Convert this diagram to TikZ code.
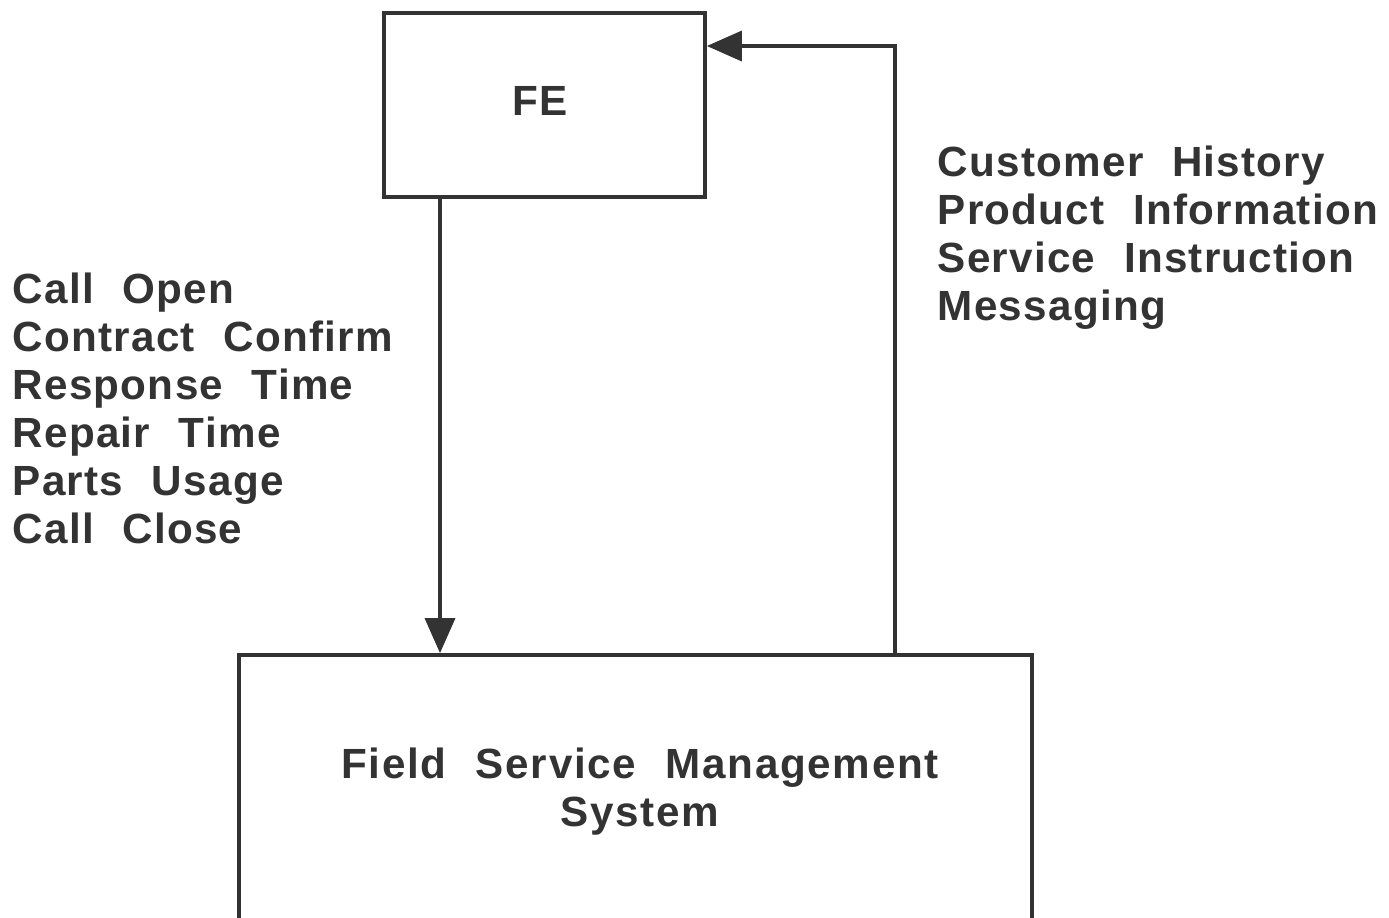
\documentclass[tikz,border=0pt]{standalone}
\usepackage{fontspec}
\usetikzlibrary{arrows.meta}
\newfontfamily\labfont{Liberation Sans}[LetterSpace=3,WordSpace=2.2]
\newfontfamily\boxfont{Liberation Sans}[LetterSpace=4,WordSpace=2.2]
\definecolor{ink}{HTML}{333333}
\tikzset{
  lab/.style={font=\labfont\bfseries\fontsize{12}{13.66}\selectfont, text=ink, inner sep=0pt},
  boxlab/.style={font=\boxfont\bfseries\fontsize{12}{13.66}\selectfont, text=ink, inner sep=0pt},
  box/.style={draw=ink, line width=1pt, rectangle, inner sep=0pt},
  arr/.style={draw=ink, line width=1pt, -{Triangle[length=3.5mm,width=3mm]}}
}
\begin{document}
\begin{tikzpicture}[x=0.01cm,y=-0.01cm]
\clip (0,0) rectangle (1389,917);
\fill[white] (0,0) rectangle (1389,917);
\node[box, minimum width=3.21cm, minimum height=1.84cm] (fe) at (544.5,105) {};
\node[boxlab] (fetext) at (540,101) {FE};
\node[box, minimum width=7.93cm, minimum height=5cm] (fsms) at (635.5,905) {};
\node[boxlab, align=center] (fsmstext) at (640,792) {Field Service Management\\System};
\coordinate (dx) at (440,0);
\coordinate (ux) at (895,0);
\coordinate (uy) at (0,46);
\draw[arr] (fe.south -| dx) -- (fsms.north -| dx);
\draw[arr] (fsms.north -| ux) -- (ux |- uy) -- (fe.east |- uy);
\node[lab, align=left, anchor=north west] (left) at (12,272) {Call Open\\Contract Confirm\\Response Time\\Repair Time\\Parts Usage\\Call Close};
\node[lab, align=left, anchor=north west] (right) at (937,145) {Customer History\\Product Information\\Service Instruction\\Messaging};
\end{tikzpicture}
\end{document}
